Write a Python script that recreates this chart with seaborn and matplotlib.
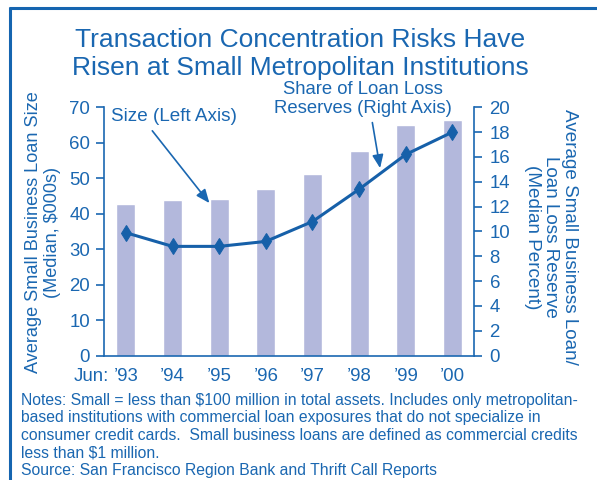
import matplotlib.pyplot as plt
import numpy as np
import seaborn as sns
from matplotlib.lines import Line2D

# ---------------------------------------------------------------- data
years = ["’93", "’94", "’95", "’96", "’97", "’98", "’99", "’00"]
loan_size = [42.7, 43.9, 44.2, 46.9, 51.2, 57.7, 65.0, 66.4]      # left axis, $000s
reserve_share = [9.9, 8.8, 8.8, 9.2, 10.8, 13.4, 16.2, 18.0]      # right axis, percent
left_ticks = list(range(0, 71, 10))
right_ticks = list(range(0, 21, 2))

TITLE = "Transaction Concentration Risks Have\nRisen at Small Metropolitan Institutions"
NOTES = ("Notes: Small = less than $100 million in total assets. Includes only metropolitan-\n"
         "based institutions with commercial loan exposures that do not specialize in\n"
         "consumer credit cards.  Small business loans are defined as commercial credits\n"
         "less than $1 million.\n"
         "Source: San Francisco Region Bank and Thrift Call Reports")

BLUE = "#1a67b1"
LINE_BLUE = "#1660a9"
BAR = "#b3b8dc"
TICK_FS = 13.4

sns.set_style("white")
plt.rcParams["font.family"] = ["Liberation Sans", "DejaVu Sans"]

fig = plt.figure(figsize=(5.97, 4.8), dpi=100)
ax = fig.add_axes([0.1742, 0.259, 0.6203, 0.5175])

x = np.arange(len(years))
sns.barplot(x=x, y=loan_size, color=BAR, saturation=1, width=0.41, ax=ax, native_scale=True)
ax2 = ax.twinx()
sns.lineplot(x=x, y=reserve_share, ax=ax2, color=LINE_BLUE, lw=2.2, marker="d",
             markersize=8, markeredgecolor=LINE_BLUE, markerfacecolor=LINE_BLUE)

ax.set_xlim(-0.47, 7.47)
ax.set_ylim(0, 70)
ax2.set_ylim(0, 20)
ax.set_yticks(left_ticks)
ax2.set_yticks(right_ticks)
ax.set_xticks(x)
ax.set_xticklabels(years)
ax.set_xticks(np.r_[-0.47, np.arange(0.5, 7, 1), 7.47], minor=True)
ax.set_xlabel("")
ax.set_ylabel("")
ax2.set_ylabel("")

for a in (ax, ax2):
    for s in a.spines.values():
        s.set_color(BLUE)
        s.set_linewidth(1.2)
    a.spines["top"].set_visible(False)
ax.spines["right"].set_visible(False)
ax2.spines["left"].set_visible(False)
ax2.spines["bottom"].set_visible(False)

ax.tick_params(axis="x", which="major", length=0, pad=9, labelsize=TICK_FS, labelcolor=BLUE)
ax.tick_params(axis="x", which="minor", length=5, width=1.2, color=BLUE, direction="out")
ax.tick_params(axis="y", length=5.5, width=1.2, color=BLUE, direction="out", pad=4.5,
               labelsize=TICK_FS, labelcolor=BLUE, left=True)
ax2.tick_params(axis="y", length=5.5, width=1.2, color=BLUE, direction="out", pad=5.5,
                labelsize=TICK_FS, labelcolor=BLUE, right=True)

ax.annotate("Jun:", xy=(0, 0), xycoords=("data", "axes fraction"), xytext=(-12, -9),
            textcoords="offset points", ha="right", va="top", fontsize=TICK_FS, color=BLUE)

# axis titles
fig.text(43 / 597, 1 - 232 / 480, "Average Small Business Loan Size\n(Median, $000s)",
         rotation=90, ha="center", va="center", ma="center", fontsize=13.1, color=BLUE,
         linespacing=1.1)
fig.text(551 / 597, 1 - 237 / 480,
         "Average Small Business Loan/\nLoan Loss Reserve\n(Median Percent)",
         rotation=270, ha="center", va="center", ma="center", fontsize=13.6, color=BLUE,
         linespacing=1.15)

# call-outs
arrow = dict(arrowstyle="-|>,head_length=0.6,head_width=0.25", color=BLUE, lw=1.2,
             shrinkA=2, shrinkB=0)
ax.annotate("Size (Left Axis)", xy=(1.79, 43.0), xytext=(1.04, 67.3), textcoords="data",
            ha="center", va="center", fontsize=13.6, color=BLUE,
            arrowprops=dict(arrow, relpos=(0.29, 0)), annotation_clip=False)
ax2.annotate("Share of Loan Loss\nReserves (Right Axis)", xy=(5.45, 15.1), xytext=(5.09, 20.7),
             textcoords="data", ha="center", va="center", fontsize=13.3, color=BLUE,
             linespacing=1.15, arrowprops=dict(arrow, relpos=(0.545, 0)),
             annotation_clip=False)

# title and notes
fig.text(300 / 597, 1 - 54 / 480, TITLE, ha="center", va="center", fontsize=19,
         color=BLUE, linespacing=1.2)
fig.text(21 / 597, 1 - 393 / 480, NOTES, ha="left", va="top", fontsize=11.3,
         color=BLUE, linespacing=1.2)

# panel frame (left and top rules)
fig.add_artist(Line2D([10 / 597, 10 / 597], [0, 1 - 7 / 480], transform=fig.transFigure,
                      color="#1565b0", lw=2.2, solid_capstyle="butt"))
fig.add_artist(Line2D([9 / 597, 1], [1 - 8 / 480, 1 - 8 / 480], transform=fig.transFigure,
                      color="#1565b0", lw=2.2, solid_capstyle="butt"))

fig.savefig("out.png", dpi=100)
